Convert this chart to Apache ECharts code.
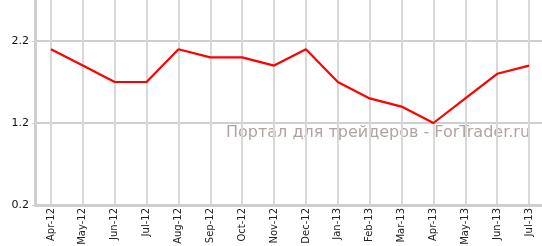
<!DOCTYPE html>
<html><head><meta charset="utf-8">
<script src="https://cdn.jsdelivr.net/npm/echarts@6/dist/echarts.min.js"></script>
<style>html,body{margin:0;padding:0;background:#fff}#c{width:542px;height:246px}</style>
</head><body><div id="c"></div>
<script>
const categories = ['Apr-12','May-12','Jun-12','Jul-12','Aug-12','Sep-12','Oct-12','Nov-12','Dec-12','Jan-13','Feb-13','Mar-13','Apr-13','May-13','Jun-13','Jul-13'];
const values = [2.1, 1.9, 1.7, 1.7, 2.1, 2.0, 2.0, 1.9, 2.1, 1.7, 1.5, 1.4, 1.2, 1.5, 1.8, 1.9];
const yTicks = [0.2, 1.2, 2.2];
const watermark = 'Портал для трейдеров - ForTrader.ru';

const chart = echarts.init(document.getElementById('c'));
chart.setOption({
  animation: false,
  backgroundColor: '#fff',
  grid: { left: 35, top: 0, width: 510, height: 205, containLabel: false, outerBoundsMode: 'none' },
  xAxis: {
    type: 'category', data: categories, boundaryGap: true,
    axisLine: { lineStyle: { color: '#cfcfcf', width: 3 } },
    axisTick: { alignWithLabel: true, length: 4, lineStyle: { color: '#c8c8c8', width: 1 } },
    axisLabel: { rotate: 90, interval: 0, fontSize: 10, fontFamily: 'DejaVu Sans', color: '#222', margin: 3 },
    splitLine: { show: true, alignWithLabel: true, interval: 0, lineStyle: { color: '#d8d8d8', width: 2 } }
  },
  yAxis: {
    type: 'value', min: 0.2, max: 2.7, interval: 1,
    axisLine: { show: true, lineStyle: { color: '#cfcfcf', width: 3 } },
    axisTick: { show: true, length: 3, lineStyle: { color: '#cfcfcf' } },
    axisLabel: { fontSize: 11, fontFamily: 'DejaVu Sans', color: '#111', margin: 6, showMaxLabel: false,
      formatter: v => yTicks.some(t => Math.abs(t - v) < 1e-6) ? v.toFixed(1) : '' },
    splitLine: { show: true, showMaxLine: false, lineStyle: { color: '#cfcfcf', width: 2 } }
  },
  graphic: [{
    type: 'text', left: 226, top: 125, z: -10,
    style: { text: watermark, fontSize: 16, fontFamily: 'DejaVu Sans', fill: '#b0a4a2' }
  }],
  series: [{
    type: 'line', data: values, symbol: 'none', z: 5,
    lineStyle: { color: '#ff0000', width: 2.2 }
  }]
});
</script></body></html>
